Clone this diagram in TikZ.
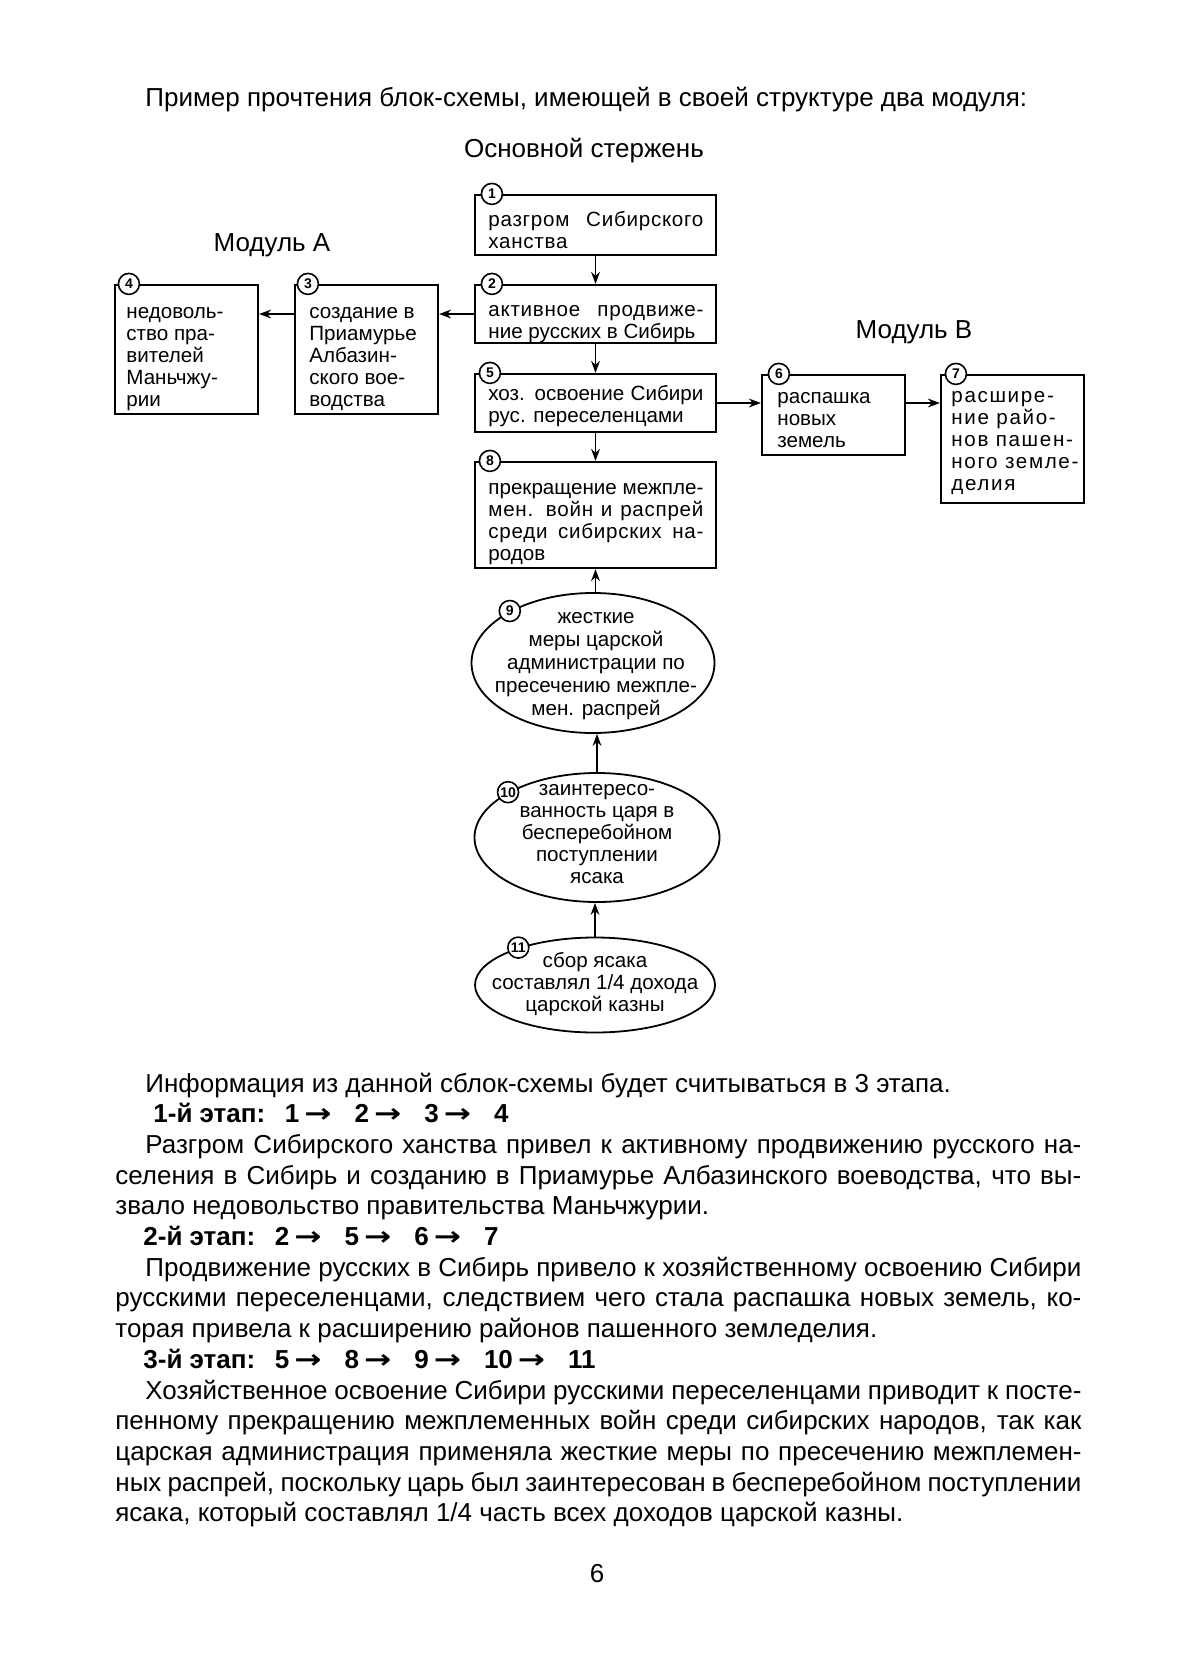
\documentclass[tikz,border=0pt]{standalone}
\usepackage{fontspec}
\setmainfont{Liberation Sans}
\newfontfamily\spacedfont[LetterSpace=8]{Liberation Sans}
\newfontfamily\lightspaced[LetterSpace=3.5]{Liberation Sans}
\newfontfamily\arrfont{DejaVu Sans}
\usetikzlibrary{shapes.geometric,arrows.meta,calc}
\newcommand\wj[1]{\makebox[107.5pt][s]{#1}}
\newcommand\ji[1]{\makebox[468pt][s]{#1}}
\newcommand\jn[1]{\makebox[483pt][s]{#1}}
\newcommand\stg{\hspace{2.5pt}{\arrfont\bfseries\scalebox{1.25}[1]{→}}\hspace{11.5pt}}
\tikzset{
  box/.style={draw, line width=1.1pt, rectangle, inner sep=0pt},
  btext/.style={anchor=north west, inner sep=0pt, align=left, font=\fontsize{10.3}{11}\selectfont},
  ell/.style={draw, line width=0.9pt, ellipse, inner sep=0pt},
  etext/.style={anchor=north, inner sep=0pt, align=center, font=\fontsize{10.3}{11}\selectfont},
  num/.style={draw, circle, fill=white, line width=0.8pt, inner sep=0pt, minimum size=10.5pt, font=\fontsize{7}{7}\selectfont\bfseries},
  arr/.style={-{Stealth[length=6pt,width=4.4pt]}, line width=0.8pt},
  body/.style={anchor=base west, inner sep=0pt, font=\fontsize{13}{15}\selectfont},
  stage/.style={anchor=base west, inner sep=0pt, font=\fontsize{13}{15}\selectfont\bfseries},
  head/.style={anchor=base, inner sep=0pt, font=\fontsize{13}{15}\selectfont},
}
\begin{document}
\begin{tikzpicture}[x=0.5pt,y=-0.5pt]
\fill[white] (0,0) rectangle (1200,1670);
\useasboundingbox (0,0) rectangle (1200,1670);

% headings
\node[head, anchor=base west] (title) at (145,106) {Пример прочтения блок-схемы, имеющей в своей структуре два модуля:};
\node[head] (core) at (584,157) {Основной стержень};
\node[head] (modA) at (272,251) {Модуль А};
\node[head] (modB) at (914,338) {Модуль В};

% boxes
\node[box, minimum width=120.5pt, minimum height=30pt] (b1) at (595.5,225) {};
\node[box, minimum width=120.5pt, minimum height=29pt] (b2) at (595.5,314) {};
\node[box, minimum width=120.5pt, minimum height=29pt] (b5) at (595.5,403) {};
\node[box, minimum width=120.5pt, minimum height=53pt] (b8) at (595.5,515) {};
\node[box, minimum width=71.5pt, minimum height=64.5pt] (b3) at (366.5,349.5) {};
\node[box, minimum width=71.5pt, minimum height=64.5pt] (b4) at (186.5,349.5) {};
\node[box, minimum width=71.5pt, minimum height=40pt] (b6) at (833.5,415) {};
\node[box, minimum width=71.5pt, minimum height=64pt] (b7) at (1012.5,439) {};

% ellipses
\node[ell, minimum width=121.5pt, minimum height=70pt] (e9) at (593,663) {};
\node[ell, minimum width=122.5pt, minimum height=64.5pt] (e10) at (597,837.5) {};
\node[ell, minimum width=120pt, minimum height=47.5pt] (e11) at (595,985) {};

% box texts
\node[btext] (t1) at (488,210.6) {\strut{\lightspaced\wj{разгром Сибирского}}\\{\lightspaced ханства}};
\node[btext] (t2) at (488,300.6) {\strut{\lightspaced\wj{активное продвиже-}}\\ние русских в Сибирь};
\node[btext] (t5) at (488,384.6) {\strut\wj{хоз. освоение Сибири}\\рус. переселенцами};
\node[btext] (t8) at (488,478.6) {\strut\wj{прекращение межпле-}\\{\lightspaced\wj{мен. войн и распрей}}\\{\lightspaced\wj{среди сибирских на-}}\\родов};
\node[btext] (t3) at (309,302.6) {\strut создание в\\Приамурье\\Албазин-\\ского вое-\\водства};
\node[btext] (t4) at (126,302.6) {\strut недоволь-\\ство пра-\\вителей\\Маньчжу-\\рии};
\node[btext] (t6) at (777,387.6) {\strut распашка\\новых\\земель};
\node[btext, font=\spacedfont\fontsize{10.3}{11}\selectfont] (t7) at (951,386.6) {\strut расшире-\\ние райо-\\нов пашен-\\ного земле-\\делия};

% ellipse texts
\node[etext, font=\fontsize{10.3}{11.5}\selectfont] (te9) at (596,606.6) {\strut жесткие\\меры царской\\администрации по\\пресечению межпле-\\мен. распрей};
\node[etext] (te10) at (597,779.6) {\strut заинтересо-\\ванность царя в\\бесперебойном\\поступлении\\ясака};
\node[etext] (te11) at (595,951.6) {\strut сбор ясака\\составлял 1/4 дохода\\царской казны};

% connectors
\draw[arr] (b1) -- (b2);
\draw[arr] (b2) -- (b5);
\draw[arr] (b5) -- (b8);
\draw[arr] (b2.west) -- (b2.west -| b3.east);
\draw[arr] (b3.west |- b2.west) -- (b4.east |- b2.west);
\draw[arr] (b5.east) -- (b5.east -| b6.west);
\draw[arr] (b6.east |- b5.east) -- (b7.west |- b5.east);
\draw[arr] (e9.north -| b8.south) -- (b8.south);
\draw[arr] (e10.north) -- (e10.north |- e9.south);
\draw[arr] (e11.north) -- (e11.north |- e10.south);

% numbers
\node[num] (n1) at ([xshift=9pt]b1.north west) {1};
\node[num] (n2) at ([xshift=9pt]b2.north west) {2};
\node[num] (n5) at ([xshift=8pt]b5.north west) {5};
\node[num] (n8) at ([xshift=8pt]b8.north west) {8};
\node[num] (n3) at ([xshift=7pt]b3.north west) {3};
\node[num] (n4) at ([xshift=7.5pt]b4.north west) {4};
\node[num] (n6) at ([xshift=9pt]b6.north west) {6};
\node[num] (n7) at ([xshift=8pt]b7.north west) {7};
\node[num] (n9) at (e9.148) {9};
\node[num] (n10) at (e10.153) {10};
\node[num] (n11) at (e11.154) {11};

% body text
\node[body] (l1) at (145,1092) {Информация из данной сблок-схемы будет считываться в 3 этапа.};
\node[stage] (l2) at (153,1122.7) {1-й этап:\hspace{5pt} 1\stg 2\stg 3\stg 4};
\node[body] (l3) at (145,1153.4) {\ji{Разгром Сибирского ханства привел к активному продвижению русского на-}};
\node[body] (l4) at (115,1184.1) {\jn{селения в Сибирь и созданию в Приамурье Албазинского воеводства, что вы-}};
\node[body] (l5) at (115,1214.8) {звало недовольство правительства Маньчжурии.};
\node[stage] (l6) at (143,1245.5) {2-й этап:\hspace{5pt} 2\stg 5\stg 6\stg 7};
\node[body] (l7) at (145,1276.2) {\ji{Продвижение русских в Сибирь привело к хозяйственному освоению Сибири}};
\node[body] (l8) at (115,1306.9) {\jn{русскими переселенцами, следствием чего стала распашка новых земель, ко-}};
\node[body] (l9) at (115,1337.6) {торая привела к расширению районов пашенного земледелия.};
\node[stage] (l10) at (143,1368.3) {3-й этап:\hspace{5pt} 5\stg 8\stg 9\stg 10\stg 11};
\node[body] (l11) at (145,1399) {\ji{Хозяйственное освоение Сибири русскими переселенцами приводит к посте-}};
\node[body] (l12) at (115,1429.7) {\jn{пенному прекращению межплеменных войн среди сибирских народов, так как}};
\node[body] (l13) at (115,1460.4) {\jn{царская администрация применяла жесткие меры по пресечению межплемен-}};
\node[body] (l14) at (115,1491.1) {\jn{ных распрей, поскольку царь был заинтересован в бесперебойном поступлении}};
\node[body] (l15) at (115,1521.8) {ясака, который составлял 1/4 часть всех доходов царской казны.};

\node[head] (page) at (597,1582) {6};
\end{tikzpicture}
\end{document}
